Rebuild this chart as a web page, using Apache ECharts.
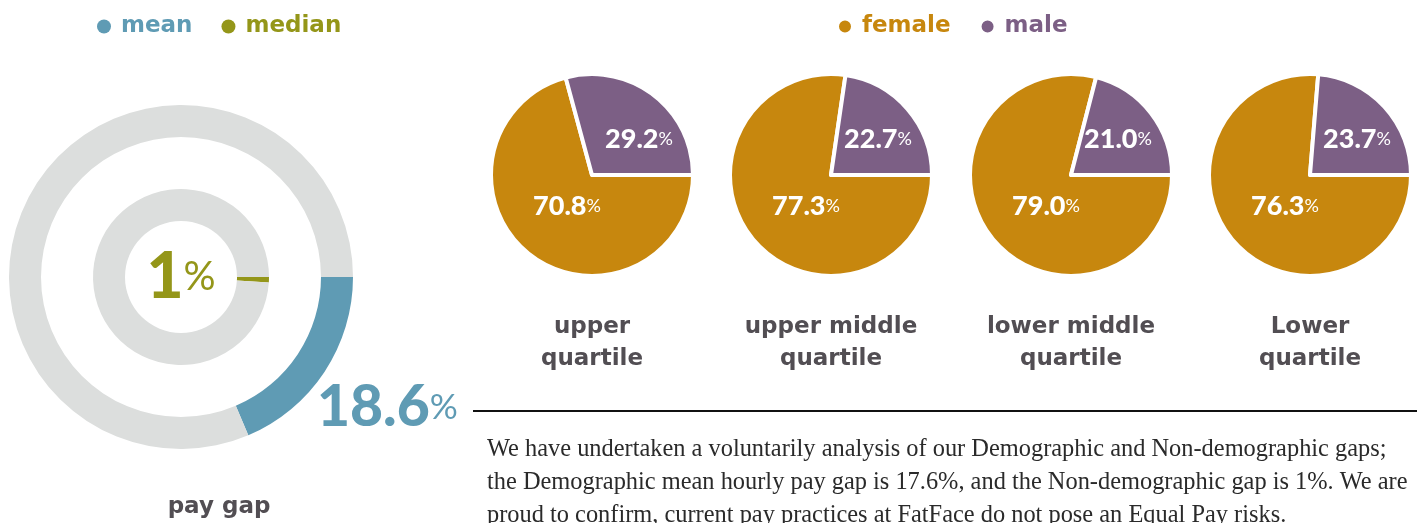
<!DOCTYPE html>
<html>
<head>
<meta charset="utf-8">
<title>Gender pay gap</title>
<script src="https://cdn.jsdelivr.net/npm/echarts@6/dist/echarts.min.js"></script>
<style>
  html, body { margin: 0; padding: 0; background: #ffffff; }
  #chart { width: 1417px; height: 523px; }
</style>
</head>
<body>
<div id="chart"></div>
<script>
// ---- data ----
const gapNames = ['mean', 'median'];
const gapValues = [18.6, 1];
const gapTitle = 'pay gap';

const genderNames = ['female', 'male'];
const quartileLabels = ['upper\nquartile', 'upper middle\nquartile', 'lower middle\nquartile', 'Lower\nquartile'];
const femaleShare = [70.8, 77.3, 79.0, 76.3];
const maleShare = [29.2, 22.7, 21.0, 23.7];

const noteLines = [
  'We have undertaken a voluntarily analysis of our Demographic and Non-demographic gaps;',
  'the Demographic mean hourly pay gap is 17.6%, and the Non-demographic gap is 1%. We are',
  'proud to confirm, current pay practices at FatFace do not pose an Equal Pay risks.'
];

// ---- styling ----
const COLORS = {
  mean: '#5f9bb4',
  median: '#949619',
  track: '#dcdedd',
  female: '#c7870e',
  male: '#7c5f85',
  heading: '#524e53',
  body: '#2a2a2a'
};
const SANS = '"DejaVu Sans", Verdana, sans-serif';
const NUM = 'Lato, "Open Sans", sans-serif';
const SERIF = '"Liberation Serif", "DejaVu Serif", serif';

// layout
const DONUT_C = [181, 277];
const PIE_CX = [592, 831, 1071, 1310];
const PIE_CY = 175;
const PIE_R = 101;

const chart = echarts.init(document.getElementById('chart'), null, { renderer: 'canvas' });

function pctRich(numSize, pctSize, color) {
  return {
    n: { fontFamily: NUM, fontWeight: 900, fontSize: numSize, color: color },
    p: { fontFamily: NUM, fontWeight: 'normal', fontSize: pctSize, color: color }
  };
}

// mean ring (outer) and median ring (inner)
const ringSpecs = [
  { radius: [140, 172], size: [57, 35] },
  { radius: [56, 88], size: [64, 40] }
];
const ringSeries = gapNames.map((name, i) => ({
  type: 'pie',
  name: name,
  center: DONUT_C,
  radius: ringSpecs[i].radius,
  startAngle: 0,
  clockwise: true,
  silent: true,
  avoidLabelOverlap: false,
  emphasis: { disabled: true },
  labelLine: { show: false },
  data: [
    {
      name: name,
      value: gapValues[i],
      itemStyle: { color: COLORS[name] },
      label: {
        show: true,
        position: i === 0 ? 'outside' : 'center',
        formatter: p => '{n|' + p.value + '}{p|%}',
        rich: pctRich(ringSpecs[i].size[0], ringSpecs[i].size[1], COLORS[name])
      }
    },
    {
      name: name + ' remainder',
      value: 100 - gapValues[i],
      itemStyle: { color: COLORS.track },
      label: { show: false }
    }
  ],
  labelLayout: i === 0 ? function (params) {
    if (params.dataIndex !== 0) return {};
    return { x: DONUT_C[0] + 136, y: DONUT_C[1] + 131, align: 'left', verticalAlign: 'middle' };
  } : undefined
}));

// quartile pies
const LABEL_OFF = { female: [-25, 31], male: [47, -36] };
const pieSeries = quartileLabels.map((q, k) => ({
  type: 'pie',
  name: q,
  center: [PIE_CX[k], PIE_CY],
  radius: PIE_R,
  startAngle: 0,
  clockwise: true,
  silent: true,
  avoidLabelOverlap: false,
  emphasis: { disabled: true },
  itemStyle: { borderColor: '#ffffff', borderWidth: 4 },
  label: {
    show: true,
    position: 'inside',
    formatter: p => '{n|' + p.value.toFixed(1) + '}{p|%}',
    rich: pctRich(27, 18, '#ffffff')
  },
  labelLine: { show: false },
  labelLayout: function (params) {
    const off = LABEL_OFF[genderNames[params.dataIndex]];
    return { x: PIE_CX[k] + off[0], y: PIE_CY + off[1], align: 'center', verticalAlign: 'middle' };
  },
  data: [
    { name: genderNames[0], value: femaleShare[k], itemStyle: { color: COLORS.female } },
    { name: genderNames[1], value: maleShare[k], itemStyle: { color: COLORS.male } }
  ]
}));

function legendBlock(names, left) {
  return {
    left: left,
    top: 10,
    orient: 'horizontal',
    icon: 'circle',
    itemWidth: 24,
    itemHeight: 14,
    itemGap: 29,
    selectedMode: false,
    textStyle: { fontFamily: SANS, fontWeight: 'bold', fontSize: 23 },
    data: names.map(n => ({
      name: n,
      itemStyle: { color: COLORS[n] },
      textStyle: { color: COLORS[n] }
    }))
  };
}

const graphics = [];
quartileLabels.forEach((q, k) => {
  graphics.push({
    type: 'text',
    x: PIE_CX[k],
    y: 311,
    silent: true,
    style: {
      text: q,
      fill: COLORS.heading,
      font: 'bold 23px ' + SANS,
      lineHeight: 32,
      align: 'center',
      verticalAlign: 'top'
    }
  });
});
graphics.push({
  type: 'text',
  x: 219,
  y: 496,
  silent: true,
  style: {
    text: gapTitle,
    fill: COLORS.heading,
    font: 'bold 23px ' + SANS,
    align: 'center',
    verticalAlign: 'top'
  }
});
graphics.push({
  type: 'line',
  silent: true,
  shape: { x1: 473, y1: 411, x2: 1417, y2: 411 },
  style: { stroke: '#111111', lineWidth: 2 }
});
graphics.push({
  type: 'text',
  x: 487,
  y: 433,
  silent: true,
  style: {
    text: noteLines.join('\n'),
    fill: COLORS.body,
    font: '24.4px ' + SERIF,
    lineHeight: 33,
    align: 'left',
    verticalAlign: 'top'
  }
});

chart.setOption({
  animation: false,
  backgroundColor: '#ffffff',
  legend: [legendBlock(gapNames, 92), legendBlock(genderNames, 832)],
  series: ringSeries.concat(pieSeries),
  graphic: graphics
});
</script>
</body>
</html>
